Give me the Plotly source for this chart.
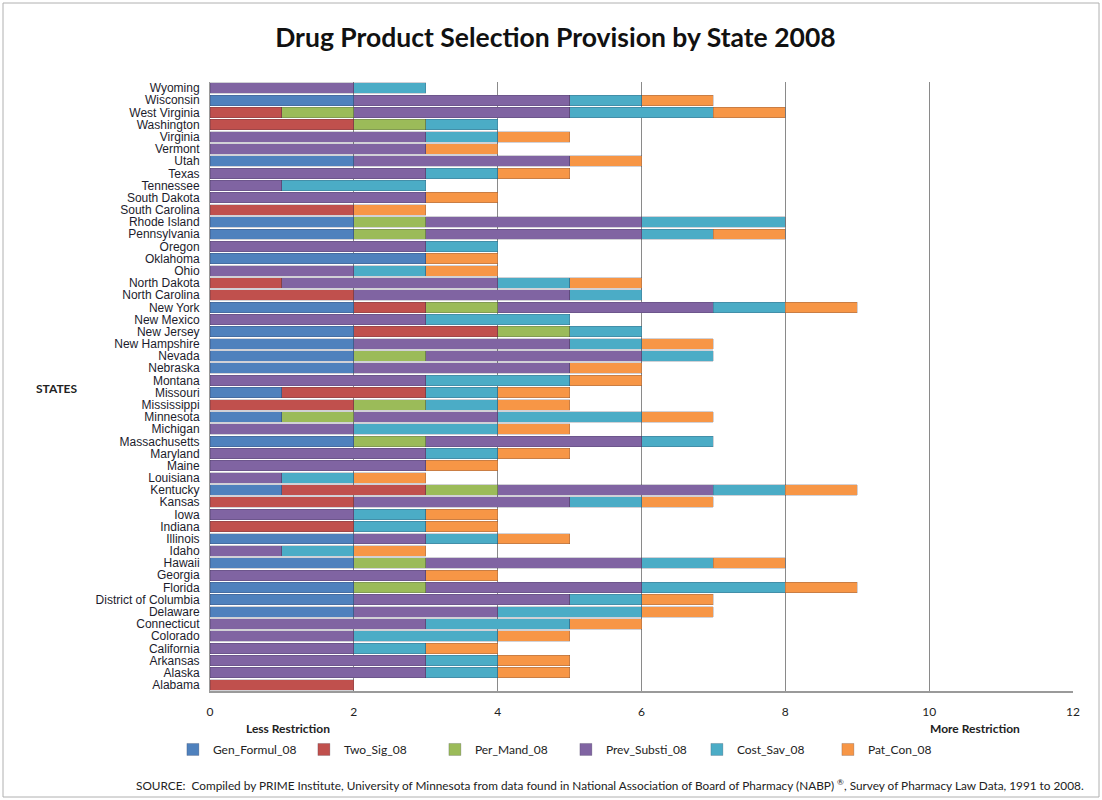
import plotly.graph_objects as go

# States listed bottom-to-top (Plotly draws the first category at the bottom)
states = [
    "Alabama", "Alaska", "Arkansas", "California", "Colorado", "Connecticut",
    "Delaware", "District of Columbia", "Florida", "Georgia", "Hawaii", "Idaho",
    "Illinois", "Indiana", "Iowa", "Kansas", "Kentucky", "Louisiana", "Maine",
    "Maryland", "Massachusetts", "Michigan", "Minnesota", "Mississippi",
    "Missouri", "Montana", "Nebraska", "Nevada", "New Hampshire", "New Jersey",
    "New Mexico", "New York", "North Carolina", "North Dakota", "Ohio",
    "Oklahoma", "Oregon", "Pennsylvania", "Rhode Island", "South Carolina",
    "South Dakota", "Tennessee", "Texas", "Utah", "Vermont", "Virginia",
    "Washington", "West Virginia", "Wisconsin", "Wyoming",
]

gen_formul_08 = [0, 0, 0, 0, 0, 0, 2, 2, 2, 0, 2, 0, 2, 0, 0, 0, 1, 0, 0, 0,
                 2, 0, 1, 0, 1, 0, 2, 2, 2, 2, 0, 2, 0, 0, 0, 3, 0, 2, 2, 0,
                 0, 0, 0, 2, 0, 0, 0, 0, 2, 0]
two_sig_08 = [2, 0, 0, 0, 0, 0, 0, 0, 0, 0, 0, 0, 0, 2, 0, 2, 2, 0, 0, 0,
              0, 0, 0, 2, 2, 0, 0, 0, 0, 2, 0, 1, 2, 1, 0, 0, 0, 0, 0, 2,
              0, 0, 0, 0, 0, 0, 2, 1, 0, 0]
per_mand_08 = [0, 0, 0, 0, 0, 0, 0, 0, 1, 0, 1, 0, 0, 0, 0, 0, 1, 0, 0, 0,
               1, 0, 1, 1, 0, 0, 0, 1, 0, 1, 0, 1, 0, 0, 0, 0, 0, 1, 1, 0,
               0, 0, 0, 0, 0, 0, 1, 1, 0, 0]
prev_substi_08 = [0, 3, 3, 2, 2, 3, 2, 3, 3, 3, 3, 1, 1, 0, 2, 3, 3, 1, 3, 3,
                  3, 2, 2, 0, 0, 3, 3, 3, 3, 0, 3, 3, 3, 3, 2, 0, 3, 3, 3, 0,
                  3, 1, 3, 3, 3, 3, 0, 3, 3, 2]
cost_sav_08 = [0, 1, 1, 1, 2, 2, 2, 1, 2, 0, 1, 1, 1, 1, 1, 1, 1, 1, 0, 1,
               1, 2, 2, 1, 1, 2, 0, 1, 1, 1, 2, 1, 1, 1, 1, 0, 1, 1, 2, 0,
               0, 2, 1, 0, 0, 1, 1, 2, 1, 1]
pat_con_08 = [0, 1, 1, 1, 1, 1, 1, 1, 1, 1, 1, 1, 1, 1, 1, 1, 1, 1, 1, 1,
              0, 1, 1, 1, 1, 1, 1, 0, 1, 0, 0, 1, 0, 1, 1, 1, 0, 1, 0, 1,
              1, 0, 1, 1, 1, 1, 0, 1, 1, 0]

series_names = ["Gen_Formul_08", "Two_Sig_08", "Per_Mand_08",
                "Prev_Substi_08", "Cost_Sav_08", "Pat_Con_08"]
series_values = [gen_formul_08, two_sig_08, per_mand_08,
                 prev_substi_08, cost_sav_08, pat_con_08]
series_colors = ["#4F81BD", "#C0504D", "#9BBB59", "#8064A2", "#4BACC6", "#F79646"]

x_ticks = [0, 2, 4, 6, 8, 10, 12]

fig = go.Figure()
for name, vals, col in zip(series_names, series_values, series_colors):
    fig.add_trace(go.Bar(
        y=states,
        x=[v if v else None for v in vals],
        name=name,
        orientation="h",
        marker=dict(color=col, line=dict(width=0.6, color="rgba(40,40,60,0.35)")),
    ))

fig.update_layout(
    barmode="stack",
    bargap=0.14,
    width=1102,
    height=800,
    paper_bgcolor="white",
    plot_bgcolor="white",
    margin=dict(l=210, r=29, t=82, b=109),
    font=dict(family="Lato, Arial, sans-serif", color="#222222"),
    title=dict(
        text="<b>Drug Product Selection Provision by State 2008</b>",
        x=0.504, xanchor="center", xref="container",
        y=1 - 38 / 800, yanchor="middle", yref="container",
        font=dict(family="Lato, Arial, sans-serif", size=26.5, color="#111111"),
    ),
    xaxis=dict(
        range=[0, 12],
        tickvals=x_ticks,
        showgrid=True,
        gridcolor="#8a8a8a",
        gridwidth=1,
        zeroline=False,
        showline=True,
        linecolor="#9a9a9a",
        linewidth=2,
        ticks="",
        ticklabelstandoff=9,
        tickfont=dict(family="Lato, Arial, sans-serif", size=12, color="#222222"),
    ),
    yaxis=dict(
        categoryorder="array",
        categoryarray=states,
        tickmode="array",
        tickvals=states,
        ticktext=states,
        range=[-0.5, len(states) - 0.5],
        showgrid=False,
        showline=True,
        linecolor="#9a9a9a",
        linewidth=1,
        ticks="",
        ticklabelstandoff=7,
        tickfont=dict(family="Liberation Sans, Arial, sans-serif", size=12,
                      color="#1c1c2c"),
    ),
    legend=dict(
        orientation="h",
        x=-0.043, xanchor="left",
        y=-0.096, yanchor="middle",
        font=dict(family="Lato, Arial, sans-serif", size=12, color="#222222"),
        itemwidth=30,
        entrywidth=86,
        traceorder="normal",
        bgcolor="rgba(0,0,0,0)",
    ),
    showlegend=True,
)

annots = [
    dict(text="<b>STATES</b>", x=57, y=388),
    dict(text="<b>Less Restriction</b>", x=288, y=728),
    dict(text="<b>More Restriction</b>", x=975, y=728),
]
for a in annots:
    fig.add_annotation(
        text=a["text"],
        xref="paper", yref="paper",
        x=(a["x"] - 210) / 863, y=(691 - a["y"]) / 609,
        xanchor="center", yanchor="middle", showarrow=False,
        font=dict(family="Lato, Arial, sans-serif", size=12, color="#222222"),
    )

fig.add_annotation(
    text="SOURCE:  Compiled by PRIME Institute, University of Minnesota from data found in "
         "National Association of Board of Pharmacy (NABP) <sup>®</sup>, Survey of Pharmacy "
         "Law Data, 1991 to 2008.",
    xref="paper", yref="paper",
    x=(610 - 210) / 863, y=(691 - 785) / 609,
    xanchor="center", yanchor="middle", showarrow=False,
    font=dict(family="Lato, Arial, sans-serif", size=11.8, color="#222222"),
)

# Chart border around the whole figure
fig.add_shape(
    type="rect", xref="paper", yref="paper",
    x0=(3 - 210) / 863, x1=(1099 - 210) / 863,
    y0=(691 - 797) / 609, y1=(691 - 3) / 609,
    line=dict(color="#b0b0b0", width=1), fillcolor="rgba(0,0,0,0)",
    layer="below",
)

fig.write_html("out.html")
